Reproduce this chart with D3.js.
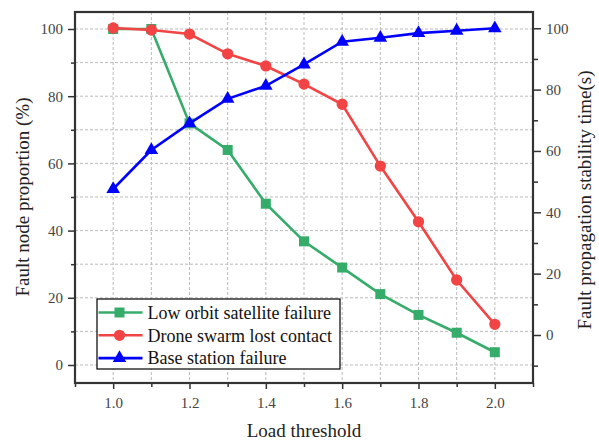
<!DOCTYPE html>
<html>
<head>
<meta charset="utf-8">
<script src="https://cdn.jsdelivr.net/npm/d3@7"></script>
<style>
    body{margin:0;background:#fff;}
    .canvas{width:599px;height:440px;}
    svg text{font-family:"Times New Roman","Liberation Serif","DejaVu Serif",serif;}
    .axis text{font-size:15px;fill:#444;}
    .axis line{stroke:#333;stroke-width:1.5px;}
    .axis path{display:none;}
    .grid line{stroke:#bbb;stroke-width:1px;stroke-dasharray:3,2;}
    .title{font-size:19px;fill:#222;}
    .legend text{font-size:18px;fill:#111;}
</style>
</head>
<body>
<div class="canvas" id="canvas"></div>
<script>
//data
var loads = [1.0,1.1,1.2,1.3,1.4,1.5,1.6,1.7,1.8,1.9,2.0];
var satellite = [100,100,71.9,64,48,36.8,29,21.1,14.9,9.6,3.8];   //left axis (%)
var drone = [100.3,99.7,98.5,92.6,89,83.6,77.6,59.2,42.6,25.3,12.1]; //left axis (%)
var baseStation = [47.6,60.3,69,77,81.2,88.2,95.6,96.9,98.4,99.2,100]; //right axis (s)
var seriesNames = ['Low orbit satellite failure','Drone swarm lost contact','Base station failure'];
var xTicks = [1.0,1.2,1.4,1.6,1.8,2.0];
var xMinor = [0.9,1.1,1.3,1.5,1.7,1.9,2.1];
var yLeftTicks = [0,20,40,60,80,100];
var yLeftMinor = [10,30,50,70,90];
var yRightTicks = [0,20,40,60,80,100];
var yRightMinor = [-10,10,30,50,70,90];

//margin convention
var m = {t:12,r:66,b:57,l:75};
var outerWidth = 599,
    outerHeight = 440;
var w = outerWidth - m.l - m.r,
    h = outerHeight - m.t - m.b;

var svg = d3.select('.canvas')
    .append('svg')
    .attr('width',outerWidth)
    .attr('height',outerHeight);

var plot = svg.append('g')
    .attr('transform','translate(' + m.l + ',' + m.t + ')');

var scaleX = d3.scaleLinear().domain([0.9,2.1]).range([0,w]);
var scaleY = d3.scaleLinear().domain([-5.36,105.06]).range([h,0]);
var scaleY2 = d3.scaleLinear().domain([-15.65,105.3]).range([h,0]);

//grid
plot.append('g')
    .attr('class','grid')
    .selectAll('line')
    .data(d3.range(0,101,10))
    .enter()
    .append('line')
    .attr('x1',0).attr('x2',w)
    .attr('y1',function(d){return scaleY(d)})
    .attr('y2',function(d){return scaleY(d)});

plot.append('g')
    .attr('class','grid')
    .selectAll('line')
    .data(loads)
    .enter()
    .append('line')
    .attr('y1',0).attr('y2',h)
    .attr('x1',function(d){return scaleX(d)})
    .attr('x2',function(d){return scaleX(d)});

//axes
var fmt = d3.format('.1f');
plot.append('g')
    .attr('class','axis')
    .attr('transform','translate(0,' + h + ')')
    .call(d3.axisBottom(scaleX).tickValues(xTicks).tickFormat(fmt).tickSize(6).tickPadding(8))
plot.append('g')
    .attr('class','axis')
    .attr('transform','translate(0,' + h + ')')
    .call(d3.axisBottom(scaleX).tickValues(xMinor).tickFormat('').tickSize(4));

plot.append('g')
    .attr('class','axis')
    .call(d3.axisLeft(scaleY).tickValues(yLeftTicks).tickSize(7).tickPadding(5));
plot.append('g')
    .attr('class','axis')
    .call(d3.axisLeft(scaleY).tickValues(yLeftMinor).tickFormat('').tickSize(4));

plot.append('g')
    .attr('class','axis')
    .attr('transform','translate(' + w + ',0)')
    .call(d3.axisRight(scaleY2).tickValues(yRightTicks).tickSize(8).tickPadding(5));
plot.append('g')
    .attr('class','axis')
    .attr('transform','translate(' + w + ',0)')
    .call(d3.axisRight(scaleY2).tickValues(yRightMinor).tickFormat('').tickSize(5));

//axis g's carry font-family="sans-serif", clear it
plot.selectAll('.axis').attr('font-family',null).attr('font-size',null);

//frame
plot.append('rect')
    .attr('width',w)
    .attr('height',h)
    .attr('fill','none')
    .attr('stroke','#333')
    .attr('stroke-width',2.2);

//series
var series = [
    {name:seriesNames[0],values:satellite,y:scaleY,color:'#36ac6a',symbol:d3.symbolSquare,size:100},
    {name:seriesNames[1],values:drone,y:scaleY,color:'#f24444',symbol:d3.symbolCircle,size:100},
    {name:seriesNames[2],values:baseStation,y:scaleY2,color:'#0000ff',symbol:d3.symbolTriangle,size:80}
];

series.forEach(function(s){
    var line = d3.line()
        .x(function(d,i){return scaleX(loads[i])})
        .y(function(d){return s.y(d)});

    plot.append('path')
        .datum(s.values)
        .attr('d',line)
        .attr('fill','none')
        .attr('stroke',s.color)
        .attr('stroke-width',2.6);

    plot.append('g')
        .selectAll('path')
        .data(s.values)
        .enter()
        .append('path')
        .attr('d',d3.symbol().type(s.symbol).size(s.size))
        .attr('transform',function(d,i){
            return 'translate(' + scaleX(loads[i]) + ',' + s.y(d) + ')'})
        .attr('fill',s.color);
});

//legend
var legend = plot.append('g')
    .attr('class','legend')
    .attr('transform','translate(22,287)');

legend.append('rect')
    .attr('width',243)
    .attr('height',70)
    .attr('fill','#fff')
    .attr('stroke','#000')
    .attr('stroke-width',1.2);

var rows = legend.selectAll('.row')
    .data(series)
    .enter()
    .append('g')
    .attr('class','row')
    .attr('transform',function(d,i){return 'translate(0,' + (13.5 + i*22.8) + ')'});

rows.append('line')
    .attr('x1',1.5).attr('x2',45.5)
    .attr('stroke',function(d){return d.color})
    .attr('stroke-width',2.6);

rows.append('path')
    .attr('d',function(d){return d3.symbol().type(d.symbol).size(d.size)()})
    .attr('transform','translate(22.5,0)')
    .attr('fill',function(d){return d.color});

rows.append('text')
    .text(function(d){return d.name})
    .attr('x',50.5)
    .attr('dy','0.35em');

//axis titles
svg.append('text')
    .attr('class','title')
    .attr('text-anchor','middle')
    .attr('transform','translate(28.5,' + (m.t + scaleY(50)) + ') rotate(-90)')
    .text('Fault node proportion (%)');

svg.append('text')
    .attr('class','title')
    .attr('text-anchor','middle')
    .attr('transform','translate(591,200) rotate(-90)')
    .text('Fault propagation stability time(s)');

svg.append('text')
    .attr('class','title')
    .attr('text-anchor','middle')
    .attr('x',m.l + scaleX(1.5))
    .attr('y',437)
    .text('Load threshold');
</script>
</body>
</html>
